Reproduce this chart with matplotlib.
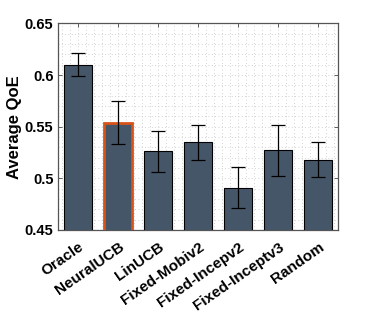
import numpy as np
import matplotlib.pyplot as plt
import matplotlib.transforms as mtransforms
from matplotlib.ticker import MultipleLocator

plt.rcParams['font.family'] = ['Liberation Sans', 'DejaVu Sans']
plt.rcParams['font.weight'] = 'bold'

methods = ['Oracle', 'NeuralUCB', 'LinUCB', 'Fixed-Mobiv2', 'Fixed-Incepv2',
           'Fixed-Inceptv3', 'Random']
qoe = [0.610, 0.554, 0.526, 0.535, 0.491, 0.527, 0.518]
err = [0.011, 0.021, 0.020, 0.017, 0.020, 0.0245, 0.017]

fig = plt.figure(figsize=(3.74, 3.12), dpi=100)
ax = fig.add_axes([0.156, 0.263, 0.749, 0.662])

x = np.arange(1, len(methods) + 1)
edges = ['black'] * len(methods)
lws = [0.8] * len(methods)
edges[1] = '#D95319'
lws[1] = 2.0
ax.bar(x, qoe, width=0.7, color='#465669', edgecolor=edges, linewidth=lws, zorder=3)
ax.errorbar(x, qoe, yerr=err, fmt='none', ecolor='black', elinewidth=0.9,
            capsize=5, capthick=0.9, zorder=4)

ax.set_xlim(0.5, 7.5)
ax.set_ylim(0.45, 0.65)
ax.set_xticks(x)
ax.set_xticklabels(methods, rotation=35, ha='right', rotation_mode='anchor',
                   fontsize=11, fontweight='bold')
shift = mtransforms.ScaledTranslation(5 / 100, 0, fig.dpi_scale_trans)
for lab in ax.get_xticklabels():
    lab.set_transform(lab.get_transform() + shift)
ax.set_yticks([0.45, 0.5, 0.55, 0.6, 0.65])
ax.set_yticklabels(['0.45', '0.5', '0.55', '0.6', '0.65'], fontsize=10.5,
                   fontweight='bold')
ax.yaxis.set_minor_locator(MultipleLocator(0.01))
ax.xaxis.set_minor_locator(MultipleLocator(0.2))
ax.tick_params(which='both', direction='in', top=True, right=True)
ax.tick_params(which='major', length=3, width=0.6, color='#444444')
ax.tick_params(axis='x', which='major', pad=7)
ax.tick_params(which='minor', length=0)
ax.grid(which='minor', linestyle=(0, (1, 3)), color='#c4c4c4', linewidth=0.6, zorder=0)
ax.grid(which='major', linestyle=(0, (1, 3)), color='#c4c4c4', linewidth=0.6, zorder=0)
for s in ax.spines.values():
    s.set_color('#555555')
    s.set_linewidth(0.9)
ax.set_ylabel('Average QoE', fontsize=12, fontweight='bold', labelpad=2)

fig.savefig('out.png', dpi=100)
